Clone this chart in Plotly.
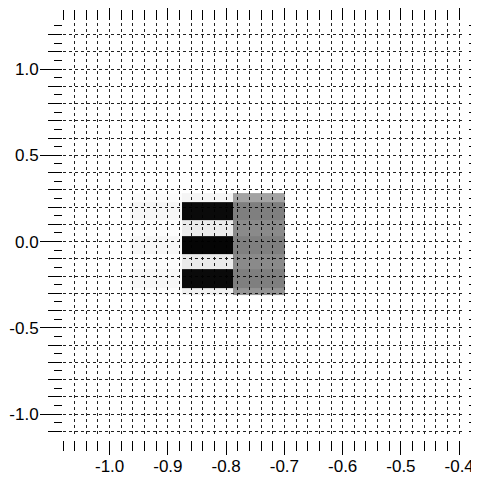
import plotly.graph_objects as go

# ---- data ----
x_edges = [-0.965, -0.876, -0.788, -0.699]
y_edges = [-0.31, -0.268, -0.162, -0.070, 0.030, 0.122, 0.226, 0.281]
# darkness (0 = white, 1 = black), rows bottom -> top, columns left -> right
faint_col = [0.01, 0.03, 0.01, 0.035, 0.01, 0.035, 0.01]
bar_col = [0.06, 0.96, 0.08, 0.98, 0.08, 0.96, 0.04]
gray_col = [0.42, 0.50, 0.46, 0.50, 0.46, 0.50, 0.36]
z = [[faint_col[i], bar_col[i], gray_col[i]] for i in range(len(bar_col))]

x_range = [-1.08, -0.39]
y_range = [-1.133, 1.267]
x_label_ticks = [-1.0, -0.9, -0.8, -0.7, -0.6, -0.5, -0.4]
y_label_ticks = [-1.0, -0.5, 0.0, 0.5, 1.0]

# page has an 8px body margin: the figure sits at (8, 8)
O = 8
W, H = 479 - O, 478 - O
FONT = dict(family="Liberation Sans, Arial, sans-serif", size=17, color="black")


def fx(px):
    return (px - O) / W


def fy(py):
    return 1 - (py - O) / H


fig = go.Figure()
fig.add_trace(go.Heatmap(
    x=x_edges, y=y_edges, z=z, zmin=0, zmax=1,
    colorscale=[[0, "rgba(0,0,0,0)"], [1, "rgba(0,0,0,1)"]],
    showscale=False, hoverinfo="skip", xaxis="x", yaxis="y"))
# carriers for the tick-only axes
fig.add_trace(go.Scatter(x=[], y=[], xaxis="x2", yaxis="y2", showlegend=False))
fig.add_trace(go.Scatter(x=[], y=[], xaxis="x3", yaxis="y3", showlegend=False))
fig.add_trace(go.Scatter(x=[], y=[], xaxis="x2", yaxis="y4", showlegend=False))

grid = dict(showgrid=True, gridcolor="#222", gridwidth=1, griddash="dot",
            zeroline=False, showline=False, ticks="", showticklabels=False)

fig.update_layout(
    width=W, height=H, margin=dict(l=0, r=0, t=0, b=0, autoexpand=False),
    paper_bgcolor="white", plot_bgcolor="white", showlegend=False,
    font=FONT,
    xaxis=dict(domain=[fx(63), fx(465)], range=x_range, tick0=0, dtick=0.02, anchor="y", **grid),
    yaxis=dict(domain=[fy(437), fy(23)], range=y_range, tick0=0, dtick=0.1, anchor="x", **grid),
    xaxis2=dict(overlaying="x", anchor="free", position=fy(440), side="bottom",
                range=x_range, showgrid=False, zeroline=False, showline=False,
                tickmode="array", tickvals=x_label_ticks, ticktext=[f"{v:.1f}" for v in x_label_ticks],
                ticks="outside", ticklen=14, tickwidth=1, tickcolor="black",
                ticklabelstandoff=-3,
                minor=dict(tick0=0, dtick=0.02, ticks="outside", ticklen=10, tickwidth=1.4,
                           tickcolor="black", showgrid=False),
                tickfont=FONT),
    xaxis3=dict(overlaying="x", anchor="free", position=fy(20), side="top",
                range=x_range, showgrid=False, zeroline=False, showline=False,
                tickmode="array", tickvals=x_label_ticks, showticklabels=False,
                ticks="outside", ticklen=14, tickwidth=1, tickcolor="black",
                minor=dict(tick0=0, dtick=0.02, ticks="outside", ticklen=10, tickwidth=1.4,
                           tickcolor="black", showgrid=False)),
    yaxis2=dict(overlaying="y", anchor="free", position=fx(62), side="left",
                range=y_range, showgrid=False, zeroline=False, showline=False,
                tickmode="array", tickvals=y_label_ticks, ticktext=[f"{v:.1f}" for v in y_label_ticks],
                ticks="outside", ticklen=22, tickwidth=1.4, tickcolor="black",
                ticklabelstandoff=-2,
                minor=dict(tick0=0, dtick=0.1, ticks="outside", ticklen=14, tickwidth=1.4,
                           tickcolor="black", showgrid=False),
                tickfont=FONT),
    yaxis3=dict(overlaying="y", anchor="free", position=fx(62), side="left",
                range=y_range, showgrid=False, zeroline=False, showline=False,
                tick0=0, dtick=0.05, showticklabels=False,
                ticks="outside", ticklen=8, tickwidth=1.4, tickcolor="black"),
    yaxis4=dict(overlaying="y", anchor="free", position=fx(468), side="right",
                range=y_range, showgrid=False, zeroline=False, showline=False,
                tick0=0, dtick=0.1, showticklabels=False,
                ticks="outside", ticklen=10, tickwidth=1.4, tickcolor="black",
                minor=dict(tick0=0, dtick=0.05, ticks="outside", ticklen=6, tickwidth=1.4,
                           tickcolor="black", showgrid=False)),
)

fig.write_html("out.html")
